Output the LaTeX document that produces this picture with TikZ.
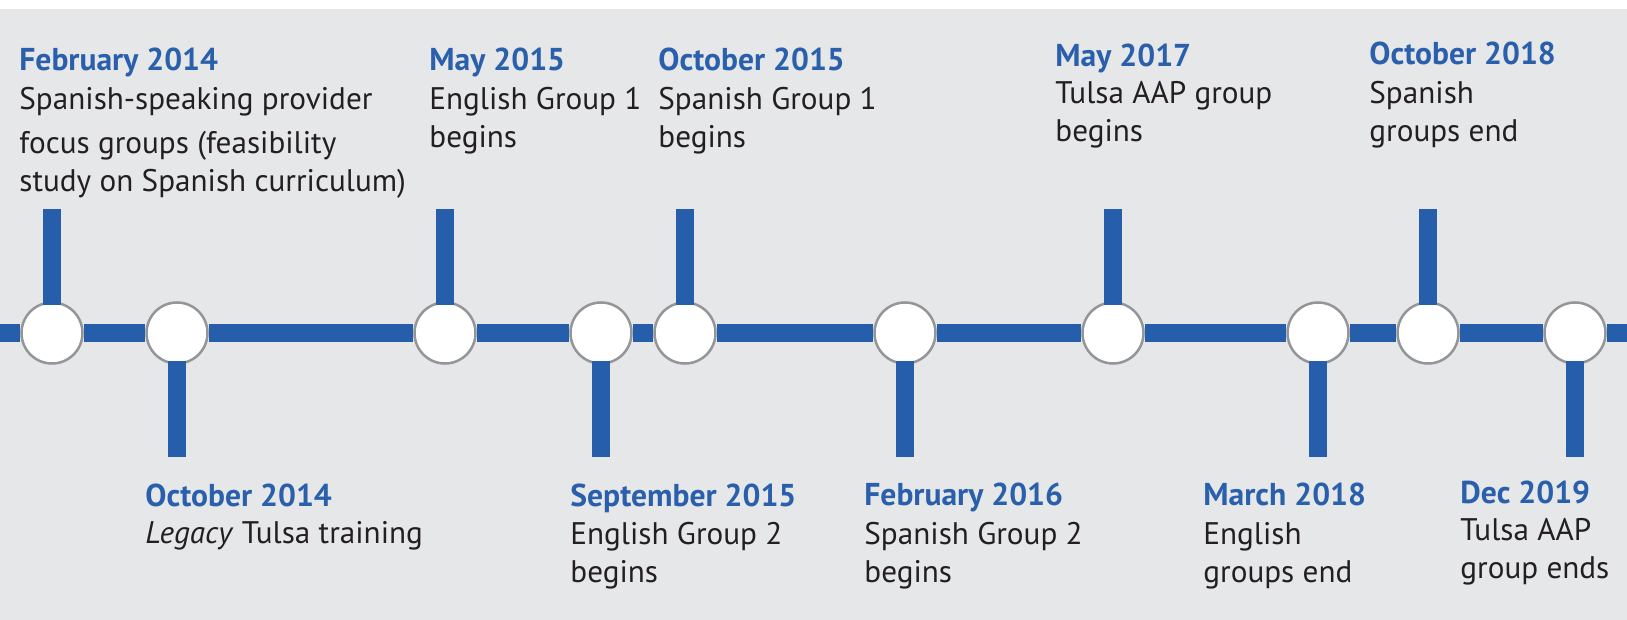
\documentclass[tikz,border=0pt]{standalone}
\usepackage{fontspec}
\setmainfont{PT Sans}
\usetikzlibrary{positioning}

\definecolor{panel}{HTML}{E6E7E9}
\definecolor{lineblue}{HTML}{265EAB}
\definecolor{dateblue}{HTML}{2A5FAB}
\definecolor{ringgray}{HTML}{939598}
\definecolor{ink}{HTML}{231F20}

\tikzset{
  dot/.style={circle, draw=ringgray, line width=1.25pt, fill=white, minimum size=30.5pt, inner sep=0pt},
  bar/.style={draw=lineblue, line width=9pt},
  stem/.style={bar, shorten <=-2pt},
  date/.style={anchor=base west, inner sep=0pt, text=dateblue, font=\fontsize{15.8}{19}\selectfont\bfseries},
  event/.style={anchor=base west, inner sep=0pt, align=left, text=ink, font=\fontsize{15.6}{19}\selectfont}
}

\begin{document}
\begin{tikzpicture}[x=0.5pt, y=-0.5pt]

\useasboundingbox (0,0) rectangle (1627,620);
\fill[panel] (0,9) rectangle (1627,620);

% points on the line
\node[dot] (A) at (52,333) {};
\node[dot] (B) at (177,333) {};
\node[dot] (C) at (445,333) {};
\node[dot] (D) at (601,333) {};
\node[dot] (E) at (685,333) {};
\node[dot] (F) at (905,333) {};
\node[dot] (G) at (1113,333) {};
\node[dot] (H) at (1318,333) {};
\node[dot] (I) at (1428,333) {};
\node[dot] (J) at (1575,333) {};

\coordinate (L) at (0,333);
\coordinate (R) at (1627,333);

% stem ends
\coordinate (a) at (52,209);
\coordinate (b) at (177,457);
\coordinate (c) at (445,209);
\coordinate (d) at (601,457);
\coordinate (e) at (685,209);
\coordinate (f) at (905,457);
\coordinate (g) at (1113,209);
\coordinate (h) at (1318,457);
\coordinate (i) at (1428,209);
\coordinate (j) at (1575,457);

\draw[bar] (L)--(A) (A)--(B) (B)--(C) (C)--(D) (D)--(E) (E)--(F) (F)--(G) (G)--(H) (H)--(I) (I)--(J) (J)--(R);

\draw[stem] (A.north)--(a);
\draw[stem] (B.south)--(b);
\draw[stem] (C.north)--(c);
\draw[stem] (D.south)--(d);
\draw[stem] (E.north)--(e);
\draw[stem] (F.south)--(f);
\draw[stem] (G.north)--(g);
\draw[stem] (H.south)--(h);
\draw[stem] (I.north)--(i);
\draw[stem] (J.south)--(j);

% labels above (text nodes sit on their last line)
\node[date] (A1) at (19,71) {February 2014};
\node[event] (A2) at (19,192) {Spanish-speaking provider\\[3pt]focus groups (feasibility\\study on Spanish curriculum)};
\node[date] (C1) at (429,71) {May 2015};
\node[event] (C2) at (429,148) {English Group 1\\begins};
\node[date] (E1) at (658,71) {October 2015};
\node[event] (E2) at (658,148) {Spanish Group 1\\begins};
\node[date] (G1) at (1055,67) {May 2017};
\node[event] (G2) at (1055,142) {Tulsa AAP group\\begins};
\node[date] (I1) at (1369,65) {October 2018};
\node[event] (I2) at (1369,142) {Spanish\\groups end};

% labels below
\node[date] (B1) at (145,506) {October 2014};
\node[event] (B2) at (145,543) {\textit{Legacy} Tulsa training};
\node[date] (D1) at (570,506) {September 2015};
\node[event] (D2) at (570,582) {English Group 2\\begins};
\node[date] (F1) at (864,505) {February 2016};
\node[event] (F2) at (864,582) {Spanish Group 2\\begins};
\node[date] (H1) at (1203,505) {March 2018};
\node[event] (H2) at (1203,582) {English\\groups end};
\node[date] (J1) at (1460,503) {Dec 2019};
\node[event] (J2) at (1460,578) {Tulsa AAP\\group ends};

\end{tikzpicture}
\end{document}
